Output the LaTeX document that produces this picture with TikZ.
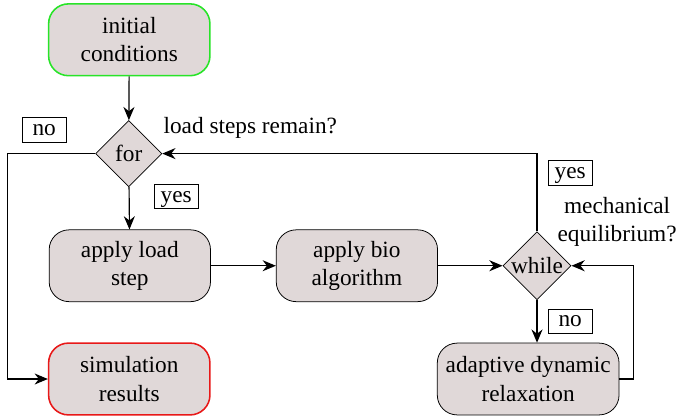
\documentclass[tikz,border=0pt,12pt]{standalone}
\usepackage{fontspec}
\setmainfont{Liberation Serif}
\usetikzlibrary{shapes.geometric,arrows.meta}
\definecolor{boxfill}{RGB}{224,216,216}
\definecolor{startgreen}{RGB}{40,228,40}
\definecolor{endred}{RGB}{232,24,24}
\begin{document}
\begin{tikzpicture}[
	stepbox/.style={draw=black, thin, fill=boxfill, rounded corners=0.36cm, align=center, minimum width=2.92cm, minimum height=1.30cm, inner sep=2pt},
	decision/.style={draw=black, thin, fill=boxfill, diamond, aspect=1, inner sep=0pt, minimum width=1.2cm, minimum height=1.2cm},
	tag/.style={draw=black, thin, fill=white, inner sep=1pt, minimum width=0.8cm, minimum height=0.42cm, text height=1.5ex, text depth=0.4ex},
	flow/.style={draw=black, semithick, -{Stealth[length=2.4mm,width=2mm]}}
]
	\useasboundingbox (0.00,0.00) rectangle (12.29,7.58);
	\node[stepbox, draw=startgreen, line width=0.8pt] (init) at (2.34,6.86) {initial\\conditions};
	\node[decision] (for) at (2.33,4.80) {for};
	\node[stepbox] (als) at (2.35,2.77) {apply load\\step};
	\node[stepbox] (abio) at (6.46,2.77) {apply bio\\algorithm};
	\node[decision] (while) at (9.72,2.77) {while};
	\node[stepbox, minimum width=3.29cm] (adr) at (9.56,0.72) {adaptive dynamic\\relaxation};
	\node[stepbox, draw=endred, line width=0.8pt] (simres) at (2.34,0.72) {simulation\\results};
	\node[tag] (no1) at (0.80,5.23) {no};
	\node[tag] (yes1) at (3.19,4.02) {yes};
	\node[tag] (yes2) at (10.32,4.45) {yes};
	\node[tag] (no2) at (10.32,1.77) {no};
	\node (loadq) at (4.53,5.27) {load steps remain?};
	\node[align=center] (mechq) at (11.17,3.57) {mechanical\\equilibrium?};
	\coordinate (lturn) at (0.13,4.80);
	\coordinate (rturn) at (11.46,0.72);
	\draw[flow] (init) -- (for);
	\draw[flow] (for) -- (als);
	\draw[flow] (als) -- (abio);
	\draw[flow] (abio) -- (while);
	\draw[flow] (while.south) -- (while.south |- adr.north);
	\draw[flow] (adr.east) -- (rturn) |- (while.east);
	\draw[flow] (while.north) |- (for.east);
	\draw[flow] (for.west) -- (lturn) |- (simres.west);
\end{tikzpicture}
\end{document}
